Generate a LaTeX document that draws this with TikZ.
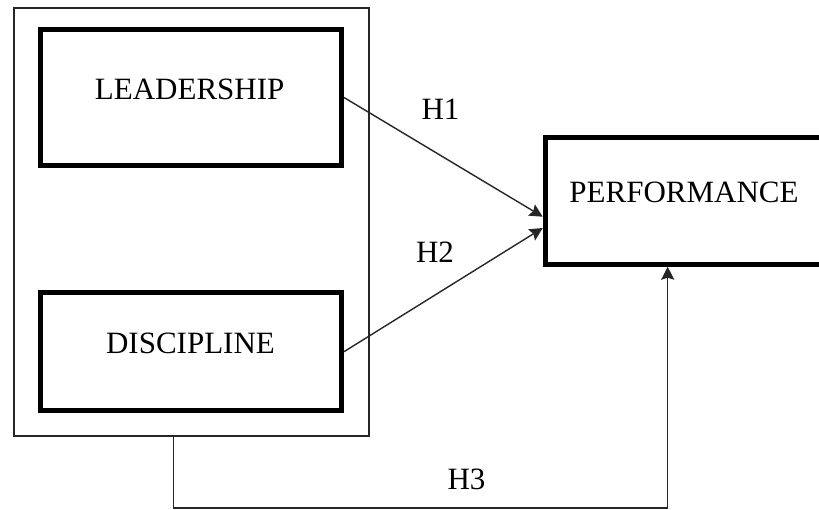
\documentclass[tikz,border=0pt]{standalone}
\usepackage{fontspec}
\setmainfont{Liberation Serif}
\usetikzlibrary{arrows.meta}
\begin{document}
\begin{tikzpicture}[x=1pt,y=-1pt,
  thickbox/.style={draw=black,line width=5pt,minimum width=#1,inner sep=0pt},
  thinbox/.style={draw=black!85,line width=1.4pt,inner sep=0pt},
  caption/.style={anchor=base,inner sep=0pt,font=\fontsize{31}{36}\selectfont},
  link/.style={draw=black!85,line width=1.4pt,-{Stealth[length=13pt,width=13pt,inset=2pt]}}]
  \useasboundingbox (0,0) rectangle (819,509);
  \begin{scope}
  \clip (0,0) rectangle (819,509);
  % outer grouping frame
  \node[thinbox,minimum width=355pt,minimum height=428pt] (group) at (191.5,222) {};
  % independent variables
  \node[thickbox=301pt,minimum height=136pt] (lead) at (191,97.5) {};
  \node[thickbox=301pt,minimum height=118.3pt] (disc) at (191,351.7) {};
  % dependent variable (runs past the right edge)
  \node[thickbox=290pt,minimum height=126.7pt] (perf) at (690.2,200.8) {};
  \end{scope}
  % texts
  \node[caption] (tlead) at (189.7,99.3) {LEADERSHIP};
  \node[caption] (tdisc) at (190.5,353.3) {DISCIPLINE};
  \node[caption] (tperf) at (684,202.7) {PERFORMANCE};
  \node[caption] (h1) at (440.5,119.3) {H1};
  \node[caption] (h2) at (435,262.7) {H2};
  \node[caption] (h3) at (466.5,489.3) {H3};
  % arrow end points
  \coordinate (e1) at (542.7,216.7);
  \coordinate (e2) at (542.7,228);
  \coordinate (g0) at (173.3,435.7);
  \coordinate (p0) at (667.7,266.7);
  \path[link] (lead.east) -- (e1);
  \path[link] (disc.east) -- (e2);
  \path[link] (g0) -- (173.3,508) -- (667.7,508) -- (p0);
\end{tikzpicture}
\end{document}
